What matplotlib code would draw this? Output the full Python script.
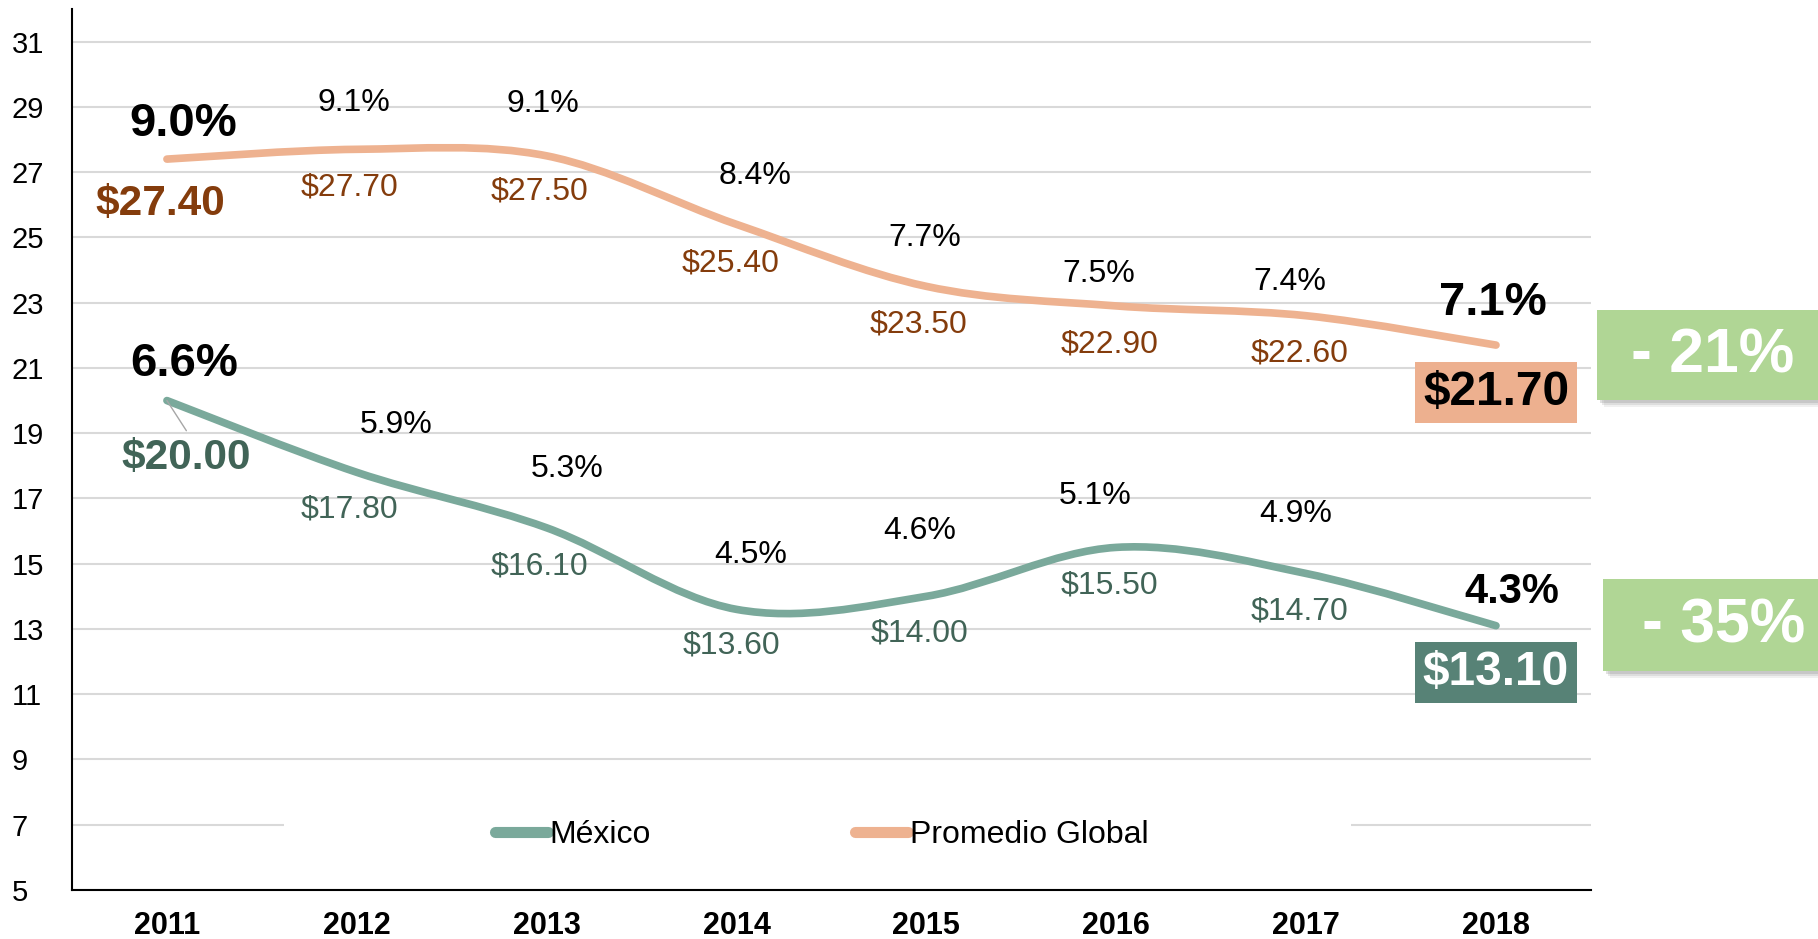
import numpy as np
import matplotlib
matplotlib.use('Agg')
import matplotlib.pyplot as plt
from matplotlib.path import Path
from matplotlib.patches import PathPatch, Rectangle
from matplotlib.lines import Line2D

plt.rcParams['font.family'] = ['Liberation Sans', 'DejaVu Sans']

years = ['2011', '2012', '2013', '2014', '2015', '2016', '2017', '2018']
global_price = [27.40, 27.70, 27.50, 25.40, 23.50, 22.90, 22.60, 21.70]
mexico_price = [20.00, 17.80, 16.10, 13.60, 14.00, 15.50, 14.70, 13.10]
global_pct = [9.0, 9.1, 9.1, 8.4, 7.7, 7.5, 7.4, 7.1]
mexico_pct = [6.6, 5.9, 5.3, 4.5, 4.6, 5.1, 4.9, 4.3]
changes = ['- 21%', '- 35%']

# label offsets (points) from each data point
g_pct_off = [(12, 25), (-2, 33), (-2.5, 37), (13, 35), (-1, 35), (-12.5, 23), (-12, 24), (-2.5, 30)]
g_usd_off = [(-5, -32.5), (-5, -27.5), (-5, -26), (-4, -28), (-6, -27.5), (-5, -27.5), (-5, -27), (0, -34)]
m_pct_off = [(12.5, 26), (28, 34), (15, 42), (10, 39), (-5, 47), (-15, 37), (-7.5, 43), (11.7, 24)]
m_usd_off = [(14, -41), (-5, -27), (-5, -27.5), (-4, -26), (-5, -27), (-5, -27.5), (-5, -27.5), (0, -33.5)]

C_GLOBAL = '#EEB290'
C_MEX = '#7AA99B'
C_GLOBAL_TXT = '#843C0C'
C_MEX_TXT = '#416457'
C_GREEN = '#B0D695'


def smooth_path(y):
    # Catmull-Rom style bezier, like Excel's smoothed line
    x = np.arange(len(y), dtype=float)
    pts = np.column_stack([x, np.asarray(y, dtype=float)])
    ext = np.vstack([pts[0], pts, pts[-1]])
    verts = [pts[0]]
    codes = [Path.MOVETO]
    for i in range(len(pts) - 1):
        p0, p1, p2, p3 = ext[i], ext[i + 1], ext[i + 2], ext[i + 3]
        verts += [p1 + (p2 - p0) / 6, p2 - (p3 - p1) / 6, p2]
        codes += [Path.CURVE4] * 3
    return Path(verts, codes)


fig = plt.figure(figsize=(18.18, 9.39), dpi=100)
ax = fig.add_axes([0.0396, 0.0522, 0.8355, 0.9382])
ax.set_xlim(-0.5, len(years) - 0.5)
ax.set_ylim(5, 32)
ax.set_yticks(np.arange(5, 32, 2))
ax.set_xticks(range(len(years)))
ax.set_xticklabels(years, fontsize=22, fontweight='bold')
ax.tick_params(axis='x', length=0, pad=15)
ax.tick_params(axis='y', length=0, pad=43.2, labelsize=21)
for lab in ax.get_yticklabels():
    lab.set_ha('left')
ax.grid(axis='y', color='#D9D9D9', lw=1.5)
ax.set_axisbelow(True)
for s in ['top', 'right']:
    ax.spines[s].set_visible(False)
for s in ['left', 'bottom']:
    ax.spines[s].set_linewidth(1.5)

for vals, col in [(mexico_price, C_MEX), (global_price, C_GLOBAL)]:
    ax.add_patch(PathPatch(smooth_path(vals), fill=False, ec=col, lw=5.5,
                           capstyle='round', joinstyle='round', zorder=3))

last = len(years) - 1
for i in range(len(years)):
    big = i in (0, last)
    # Global
    ax.annotate(f'{global_pct[i]:.1f}%', (i, global_price[i]), xytext=g_pct_off[i],
                textcoords='offset points', ha='center', va='center',
                fontsize=34 if big else 23, fontweight='bold' if big else 'normal', zorder=5)
    if i == last:
        ax.annotate(f'${global_price[i]:.2f}', (i, global_price[i]), xytext=g_usd_off[i],
                    textcoords='offset points', ha='center', va='center', fontsize=34.5,
                    fontweight='bold', color='black', zorder=5,
                    bbox=dict(boxstyle='square,pad=0.17', fc='#EDB08F', ec='none'))
    else:
        ax.annotate(f'${global_price[i]:.2f}', (i, global_price[i]), xytext=g_usd_off[i],
                    textcoords='offset points', ha='center', va='center',
                    fontsize=30.5 if big else 23, fontweight='bold' if big else 'normal',
                    color=C_GLOBAL_TXT, zorder=5)
    # Mexico
    ax.annotate(f'{mexico_pct[i]:.1f}%', (i, mexico_price[i]), xytext=m_pct_off[i],
                textcoords='offset points', ha='center', va='center',
                fontsize=(34 if i == 0 else 30) if big else 23,
                fontweight='bold' if big else 'normal', zorder=5)
    if i == last:
        ax.annotate(f'${mexico_price[i]:.2f}', (i, mexico_price[i]), xytext=m_usd_off[i],
                    textcoords='offset points', ha='center', va='center', fontsize=34.5,
                    fontweight='bold', color='white', zorder=5,
                    bbox=dict(boxstyle='square,pad=0.17', fc='#578276', ec='none'))
    else:
        ax.annotate(f'${mexico_price[i]:.2f}', (i, mexico_price[i]), xytext=m_usd_off[i],
                    textcoords='offset points', ha='center', va='center',
                    fontsize=30.5 if big else 23, fontweight='bold' if big else 'normal',
                    color=C_MEX_TXT, zorder=5)

# leader line for the first Mexico price label
ax.annotate('', (0, mexico_price[0]), xytext=(14, -21.7), textcoords='offset points',
            arrowprops=dict(arrowstyle='-', color='#A6A6A6', lw=1, shrinkA=0, shrinkB=0))

# legend, with white background hiding the gridline
ax.add_patch(Rectangle((284 / 1818, 1 - 855 / 939), (1351 - 284) / 1818, 40 / 939,
                       transform=fig.transFigure, fc='white', ec='none', zorder=1))
handles = [Line2D([], [], color=C_MEX, lw=8, solid_capstyle='round'),
           Line2D([], [], color=C_GLOBAL, lw=8, solid_capstyle='round')]
fig.legend(handles, ['México', 'Promedio Global'], loc='center', bbox_to_anchor=(0.452, 0.111),
           ncol=2, frameon=False, fontsize=23, handlelength=1.65, handletextpad=0.05,
           columnspacing=6.4)

# change boxes on the right, with a soft shadow below
boxes = [(1597, 310, 400, 1713, 356), (1603, 579, 671, 1724, 626)]
for txt, (x0, ytop, ybot, tx, ty) in zip(changes, boxes):
    h = (ybot - ytop) / 939
    for k, a in [(7, 0.12), (5, 0.18), (3, 0.25)]:
        fig.patches.append(Rectangle(((x0 + k) / 1818, 1 - (ybot + k) / 939), 0.2, h,
                                     transform=fig.transFigure, fc='#888888', ec='none', alpha=a))
    fig.patches.append(Rectangle((x0 / 1818, 1 - ybot / 939), 0.2, h,
                                 transform=fig.transFigure, fc=C_GREEN, ec='none'))
    fig.text(tx / 1818, 1 - ty / 939, txt, ha='center', va='center', fontsize=45,
             fontweight='bold', color='white')

fig.savefig('out.png', dpi=100)
